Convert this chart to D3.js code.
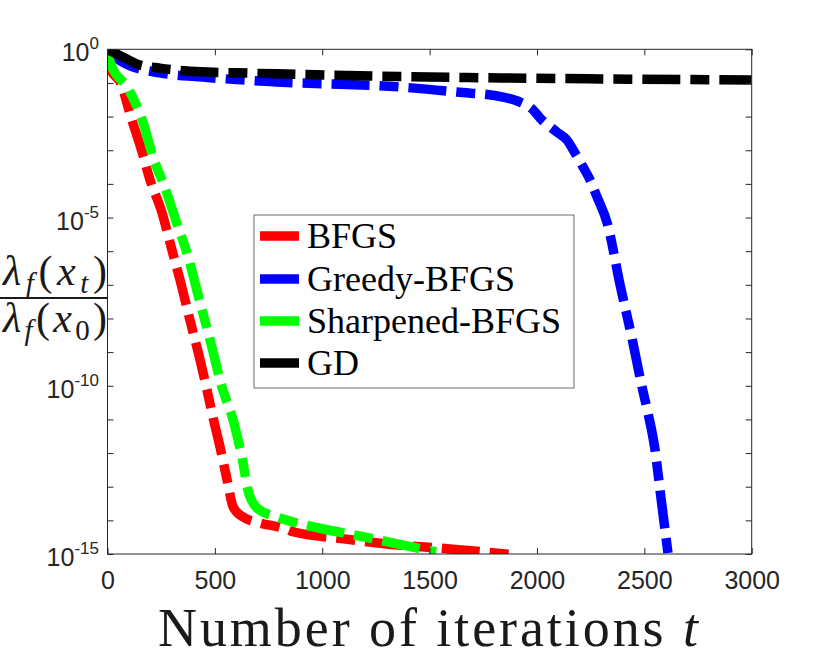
<!DOCTYPE html>
<html>
<head>
<meta charset="utf-8">
<script src="https://cdn.jsdelivr.net/npm/d3@7"></script>
<style>
  html, body { margin: 0; padding: 0; background: #fff; }
  svg { display: block; }
</style>
</head>
<body>
<svg id="chart" width="830" height="664"></svg>
<script>
// ---- data (iterations, log10 of ratio) ----
const bfgsIter = [0, 12, 63, 109, 161, 198, 254, 296, 338, 384, 431, 463, 491, 524, 557, 585, 631, 710, 817, 864, 1100, 1300, 1595, 1907];
const bfgsLog10 = [0, -0.56, -1.03, -2.01, -3.05, -3.88, -4.86, -5.87, -6.86, -8.05, -9.23, -10.12, -10.93, -11.82, -12.80, -13.60, -13.90, -14.08, -14.23, -14.34, -14.55, -14.70, -14.85, -15.03];

const greedyIter = [0, 50, 91, 244, 431, 790, 1362, 1627, 1842, 1921, 1982, 2014, 2093, 2140, 2177, 2215, 2247, 2280, 2327, 2387, 2443, 2489, 2517, 2550, 2573, 2610];
const greedyLog10 = [0, -0.30, -0.45, -0.70, -0.82, -0.97, -1.12, -1.27, -1.42, -1.57, -1.80, -2.04, -2.46, -2.70, -3.08, -3.50, -3.88, -4.39, -5.16, -7.00, -8.60, -10.03, -10.81, -11.91, -13.10, -14.97];

const sharpIter = [0, 12, 100, 165, 212, 268, 319, 370, 430, 480, 533, 585, 631, 654, 696, 789, 864, 1000, 1200, 1350, 1530];
const sharpLog10 = [0, -0.38, -1.21, -2.16, -3.20, -4.12, -5.10, -6.05, -7.50, -8.70, -10.04, -11.02, -12.29, -13.10, -13.63, -13.90, -14.05, -14.25, -14.50, -14.70, -14.94];

const gdIter = [0, 81, 151, 244, 431, 603, 790, 1362, 1828, 2294, 3000];
const gdLog10 = [0, -0.26, -0.47, -0.56, -0.67, -0.70, -0.73, -0.81, -0.85, -0.88, -0.91];

const seriesNames = ["BFGS", "Greedy-BFGS", "Sharpened-BFGS", "GD"];
const seriesColors = ["#ff0000", "#0000ff", "#00ff00", "#000000"];

const xTicks = [0, 500, 1000, 1500, 2000, 2500, 3000];
const yTickExps = d3.range(0, -16, -1);
const yLabelExps = [0, -5, -10, -15];

// ---- layout ----
const svg = d3.select("#chart");
const L = 107.5, R = 751.7, T = 49.3, B = 554;
const axisColor = "#262626";

const x = d3.scaleLinear().domain([0, 3000]).range([L, R]);
const y = d3.scaleLog().domain([1, 1e-15]).range([T, B]);

svg.append("defs").append("clipPath").attr("id", "plotclip")
  .append("rect").attr("x", L).attr("y", T).attr("width", R - L).attr("height", B - T);

// ---- series ----
const series = [
  { it: bfgsIter, lg: bfgsLog10 },
  { it: greedyIter, lg: greedyLog10 },
  { it: sharpIter, lg: sharpLog10 },
  { it: gdIter, lg: gdLog10 }
].map((s, i) => ({
  name: seriesNames[i],
  color: seriesColors[i],
  pts: s.it.map((t, j) => ({ t: t, v: Math.pow(10, s.lg[j]) }))
}));

const line = d3.line().x(d => x(d.t)).y(d => y(d.v)).curve(d3.curveMonotoneX);

const g = svg.append("g").attr("clip-path", "url(#plotclip)");
series.forEach(s => {
  g.append("path")
    .attr("d", line(s.pts))
    .attr("fill", "none")
    .attr("stroke", s.color)
    .attr("stroke-width", 9.5)
    .attr("stroke-dasharray", "38,10,19,10")
    .attr("stroke-linejoin", "round");
});

// ---- axes box and ticks ----
const axB = d3.axisBottom(x).tickValues(xTicks).tickSize(-6).tickFormat(d3.format("d"));
const axT = d3.axisTop(x).tickValues(xTicks).tickSize(-6).tickFormat("");
const axL = d3.axisLeft(y).tickValues(yTickExps.map(e => Math.pow(10, e))).tickSize(-6).tickFormat("");
const axR = d3.axisRight(y).tickValues(yTickExps.map(e => Math.pow(10, e))).tickSize(-6).tickFormat("");

function styleAxis(sel) {
  sel.select(".domain").attr("stroke", axisColor).attr("stroke-width", 1);
  sel.selectAll(".tick line").attr("stroke", axisColor).attr("stroke-width", 1);
  sel.selectAll(".tick text").attr("fill", axisColor)
    .style("font-family", "'Liberation Sans', Arial, Helvetica, sans-serif")
    .style("font-size", "25px");
}
const gB = svg.append("g").attr("transform", `translate(0,${B})`).call(axB).call(styleAxis);
gB.selectAll(".tick text").attr("dy", null).attr("y", 35);
svg.append("g").attr("transform", `translate(0,${T})`).call(axT).call(styleAxis);
svg.append("g").attr("transform", `translate(${L},0)`).call(axL).call(styleAxis);
svg.append("g").attr("transform", `translate(${R},0)`).call(axR).call(styleAxis);
svg.selectAll(".domain").attr("d", null);
svg.append("rect").attr("x", L).attr("y", T).attr("width", R - L).attr("height", B - T)
  .attr("fill", "none").attr("stroke", axisColor).attr("stroke-width", 1);

// y tick labels 10^k
yLabelExps.forEach(e => {
  const yy = y(Math.pow(10, e));
  const t = svg.append("text")
    .attr("x", 99).attr("y", yy + 12)
    .attr("text-anchor", "end")
    .attr("fill", axisColor)
    .style("font-family", "'Liberation Sans', Arial, Helvetica, sans-serif")
    .style("font-size", "25px");
  t.append("tspan").text("10");
  t.append("tspan").attr("dy", -12).style("font-size", "17px").text(String(e));
});

// ---- y label: fraction ----
const serif = "'Liberation Serif', 'Times New Roman', serif";
function fracPart(yBase, sub, subItalic) {
  const t = svg.append("text")
    .attr("x", 3).attr("y", yBase)
    .attr("textLength", 104).attr("lengthAdjust", "spacing")
    .attr("fill", "#1a1a1a")
    .style("font-family", serif).style("font-size", "42px");
  t.append("tspan").style("font-style", "italic").text("λ");
  t.append("tspan").attr("dy", 8).style("font-style", "italic").style("font-size", "29px").text("f");
  t.append("tspan").attr("dy", -8).text("(");
  t.append("tspan").style("font-style", "italic").text("x");
  t.append("tspan").attr("dy", 8).style("font-size", "29px").style("font-style", subItalic ? "italic" : "normal").text(sub);
  t.append("tspan").attr("dy", -8).text(")");
}
fracPart(285, "t", true);
fracPart(332, "0", false);
svg.append("line").attr("x1", 0).attr("x2", 108).attr("y1", 298).attr("y2", 298)
  .attr("stroke", "#1a1a1a").attr("stroke-width", 2);

// ---- x label ----
const xl = svg.append("text")
  .attr("x", 158).attr("y", 646)
  .attr("textLength", 540).attr("lengthAdjust", "spacing")
  .attr("fill", "#1a1a1a")
  .style("font-family", serif).style("font-size", "54px");
xl.append("tspan").text("Number of iterations ");
xl.append("tspan").style("font-style", "italic").text("t");

// ---- legend ----
const lg = svg.append("g");
lg.append("rect").attr("x", 254).attr("y", 215).attr("width", 320).attr("height", 173)
  .attr("fill", "#fff").attr("stroke", "#6e6e6e").attr("stroke-width", 1);
const rowY = [236, 279, 321, 363];
series.forEach((s, i) => {
  lg.append("line").attr("x1", 260).attr("x2", 299).attr("y1", rowY[i]).attr("y2", rowY[i])
    .attr("stroke", s.color).attr("stroke-width", 9.5);
  lg.append("text").attr("x", 307).attr("y", rowY[i] + 11.5)
    .attr("fill", "#000")
    .style("font-family", serif).style("font-size", "36px")
    .text(s.name);
});
</script>
</body>
</html>
